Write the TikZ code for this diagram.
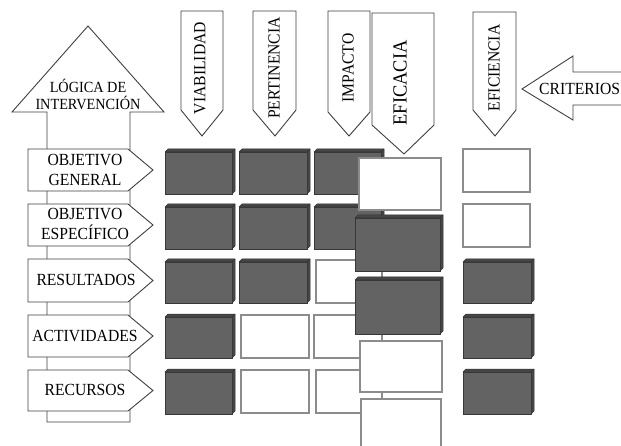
\documentclass[tikz,border=0pt]{standalone}
\usepackage{fontspec}
\setmainfont{Liberation Serif}[FakeStretch=0.92]
\begin{document}
\begin{tikzpicture}[x=1pt,y=-1pt,
  arrowshape/.style={draw=black!75,fill=white,line width=0.9pt,line join=miter},
  lbl/.style={inner sep=0pt,font=\fontsize{17}{20}\selectfont,align=center},
  hlbl/.style={inner sep=0pt,font=\fontsize{17}{20}\selectfont,rotate=90},
  headlbl/.style={inner sep=0pt,font=\fontsize{15.5}{14}\selectfont,anchor=base},
  whitebox/.style={draw=black!45,fill=white,line width=1.1pt},
  darkface/.style={fill=black!61,draw=black!78,line width=0.6pt},
  darkband/.style={fill=black!72,draw=black!80,line width=0.5pt,line join=bevel}]
\useasboundingbox (0,0) rectangle (621,446);
\clip (0,0) rectangle (621,446);
\fill[white] (0,0) rectangle (621,446);

% dark 3D box: #1=x1 #2=y1 #3=x2 #4=y2 (outer extents, depth 3)
\newcommand\dbox[4]{%
  \draw[darkband] (#1,#2+3) -- (#1+3,#2) -- (#3,#2) -- (#3-3,#2+3) -- cycle;
  \draw[darkband] (#3-3,#2+3) -- (#3,#2) -- (#3,#4-3) -- (#3-3,#4) -- cycle;
  \draw[darkface] (#1,#2+3) rectangle (#3-3,#4);}
\newcommand\wbox[4]{\draw[whitebox] (#1+1,#2+1) rectangle (#3-2,#4-1);}

% ---- big up arrow: LOGICA DE INTERVENCION ----
\draw[arrowshape] (47,422) -- (47,112) -- (12,112) -- (88,26) -- (164,112) -- (130,112) -- (130,422) -- cycle;
\node[headlbl] (li1) at (88,92.5) {LÓGICA DE};
\node[headlbl] (li2) at (88,109.5) {INTERVENCIÓN};

% ---- row pentagons ----
\foreach \ya/\yb/\nm in {149/191/r1,204/246/r2,259/302/r3,315/357/r4,370/411/r5}{
  \draw[arrowshape] (28,\ya) -- (128,\ya) -- (153,{(\ya+\yb)/2}) -- (128,\yb) -- (28,\yb) -- cycle;
}
\node[lbl] (og) at (85,170) {OBJETIVO\\GENERAL};
\node[lbl] (oe) at (85,224) {OBJETIVO\\ESPECÍFICO};
\node[lbl] (res) at (86,280) {RESULTADOS};
\node[lbl] (act) at (85,336) {ACTIVIDADES};
\node[lbl] (rec) at (85,390) {RECURSOS};

% ---- column header arrows (down) ----
\draw[arrowshape] (181,11) -- (223,11) -- (223,110) -- (202,136) -- (181,110) -- cycle;
\draw[arrowshape] (253,11) -- (296,11) -- (296,110) -- (275,136) -- (253,110) -- cycle;
\draw[arrowshape] (328,11) -- (370,11) -- (370,112) -- (349,136) -- (328,112) -- cycle;
\draw[arrowshape] (372,13) -- (434,13) -- (434,125) -- (404,154) -- (372,125) -- cycle;
\draw[arrowshape] (473,12) -- (516,12) -- (516,110) -- (495,136) -- (473,110) -- cycle;
\node[hlbl] (via) at (200,68) {VIABILIDAD};
\node[hlbl] (per) at (274,68) {PERTINENCIA};
\node[hlbl] (imp) at (348,68) {IMPACTO};
\node[hlbl,font=\fontsize{20}{22}\selectfont] (efa) at (400,83) {EFICACIA};
\node[hlbl] (efi) at (494,68) {EFICIENCIA};

% ---- CRITERIOS left arrow ----
\draw[arrowshape] (640,72) -- (573,72) -- (573,56) -- (522,89) -- (573,120) -- (573,105) -- (640,105) -- cycle;
\node[inner sep=0pt,font=\fontsize{17}{20}\selectfont,anchor=base west] (cri) at (539,95) {CRITERIOS};

% ---- grid ----
% column 1
\dbox{165}{149}{235}{194}
\dbox{165}{204}{235}{249}
\dbox{165}{259}{235}{303}
\dbox{165}{314}{235}{358}
\dbox{165}{369}{235}{414}
% column 2
\dbox{239}{149}{310}{194}
\dbox{239}{204}{310}{249}
\dbox{239}{259}{310}{303}
\wbox{240}{314}{311}{359}
\wbox{240}{369}{311}{414}
% column 3
\dbox{314}{149}{384}{194}
\dbox{314}{204}{384}{249}
\wbox{315}{259}{384}{304}
\wbox{313}{314}{384}{359}
\wbox{315}{369}{384}{414}
% eficacia column
\draw[whitebox] (359,158) rectangle (441,210);
\dbox{355}{215}{443}{271}
\dbox{355}{277}{443}{334}
\draw[whitebox] (360,341) rectangle (442,392);
\draw[whitebox] (361,399) rectangle (441,470);
% eficiencia column
\wbox{462}{148}{532}{193}
\wbox{462}{203}{532}{248}
\dbox{463}{259}{534}{303}
\dbox{463}{314}{534}{358}
\dbox{463}{369}{534}{414}
\end{tikzpicture}
\end{document}
